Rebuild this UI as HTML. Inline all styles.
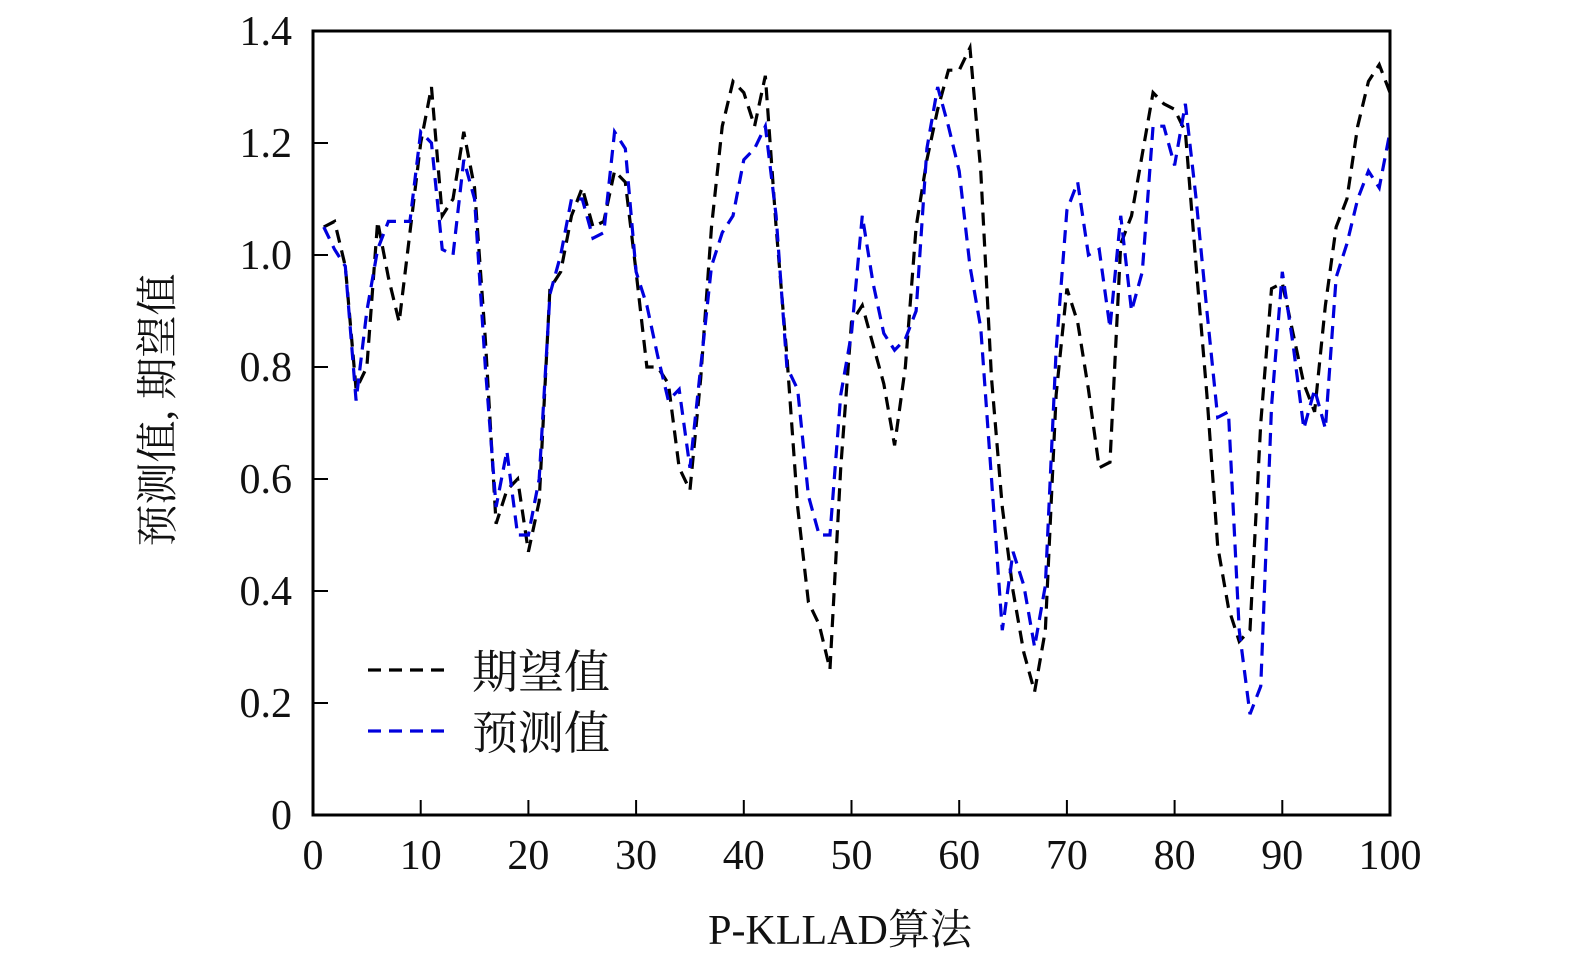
<!DOCTYPE html>
<html><head><meta charset="utf-8"><style>
html,body{margin:0;padding:0;background:#fff;overflow:hidden}
svg{display:block}
svg text{font-family:"Liberation Serif","Noto Serif CJK SC",serif;fill:#111}
</style></head><body>
<svg width="1575" height="967" viewBox="0 0 1575 967">
<g id="ticks"></g>
<g id="series"></g>
<rect x="313" y="31" width="1077" height="784" fill="none" stroke="#000" stroke-width="3"/>
<text x="172" y="410" font-size="42" text-anchor="middle" transform="rotate(-90 172 410)">预测值, 期望值</text>
<text x="840" y="944" font-size="42" text-anchor="middle">P-KLLAD算法</text>
<g>
<line x1="368" y1="670" x2="452" y2="670" stroke="#000" stroke-width="3.2" stroke-dasharray="13,8"/>
<text x="472" y="688" font-size="46">期望值</text>
<line x1="368" y1="731" x2="452" y2="731" stroke="#0000dd" stroke-width="3.2" stroke-dasharray="13,8"/>
<text x="472" y="749" font-size="46">预测值</text>
</g>
</svg>
<script>
const xTicks=[0,10,20,30,40,50,60,70,80,90,100];
const yTicks=[0,0.2,0.4,0.6,0.8,1.0,1.2,1.4];
const yTickLabels=["0","0.2","0.4","0.6","0.8","1.0","1.2","1.4"];
const expected=[1.05,1.06,0.98,0.76,0.80,1.06,0.96,0.88,1.04,1.20,1.30,1.07,1.10,1.22,1.12,0.85,0.52,0.58,0.60,0.47,0.56,0.94,0.97,1.07,1.12,1.05,1.06,1.15,1.13,0.97,0.80,0.80,0.77,0.62,0.58,0.78,1.05,1.23,1.31,1.29,1.23,1.32,1.05,0.82,0.55,0.38,0.34,0.26,0.62,0.88,0.91,0.84,0.77,0.66,0.80,1.05,1.17,1.26,1.33,1.33,1.37,1.15,0.78,0.55,0.40,0.29,0.22,0.33,0.75,0.94,0.88,0.76,0.62,0.63,1.02,1.07,1.18,1.29,1.27,1.26,1.22,0.98,0.75,0.48,0.37,0.31,0.33,0.70,0.94,0.95,0.86,0.77,0.72,0.91,1.05,1.10,1.23,1.31,1.34,1.29];
const predicted=[1.05,1.01,0.98,0.74,0.90,1.01,1.06,1.06,1.06,1.22,1.20,1.01,1.00,1.17,1.10,0.80,0.55,0.65,0.50,0.50,0.60,0.93,1.00,1.10,1.10,1.03,1.04,1.22,1.19,0.97,0.91,0.82,0.74,0.76,0.62,0.80,0.98,1.04,1.07,1.17,1.19,1.23,1.07,0.80,0.76,0.57,0.50,0.50,0.75,0.86,1.07,0.95,0.86,0.83,0.85,0.90,1.19,1.30,1.23,1.15,0.98,0.87,0.60,0.33,0.47,0.41,0.30,0.41,0.83,1.08,1.13,1.00,1.01,0.87,1.07,0.90,0.97,1.23,1.23,1.16,1.27,1.10,0.90,0.71,0.72,0.33,0.18,0.23,0.73,0.97,0.84,0.69,0.76,0.69,0.96,1.02,1.10,1.15,1.12,1.22];
const NS="http://www.w3.org/2000/svg";
const X=v=>313+v*10.77, Y=v=>815-v*560;
const tg=document.getElementById('ticks'), sg=document.getElementById('series');
function mk(tag,attrs,parent){const e=document.createElementNS(NS,tag);for(const k in attrs)e.setAttribute(k,attrs[k]);parent.appendChild(e);return e;}
xTicks.forEach(t=>{
 const l=mk('line',{x1:X(t),x2:X(t),y1:815,y2:800,stroke:'#000','stroke-width':2},tg);
 
 
 const s=mk('text',{x:X(t),y:869,'font-size':42,'text-anchor':'middle'},tg);s.textContent=t;
 
 
});
yTicks.forEach((t,i)=>{
 const l=mk('line',{x1:313,x2:328,y1:Y(t),y2:Y(t),stroke:'#000','stroke-width':2},tg);
 
 
 const s=mk('text',{x:292,y:Y(t)+14,'font-size':42,'text-anchor':'end'},tg);s.textContent=yTickLabels[i];
 
 
});
function line(data,color,name){
 const p=mk('polyline',{points:data.map((v,i)=>X(i+1)+','+Y(v)).join(' '),fill:'none',stroke:color,'stroke-width':3.2,'stroke-dasharray':'13,8'},sg);
 
 
}
line(expected,'#000','expected-line');
line(predicted,'#0000dd','predicted-line');
</script>
</body></html>
